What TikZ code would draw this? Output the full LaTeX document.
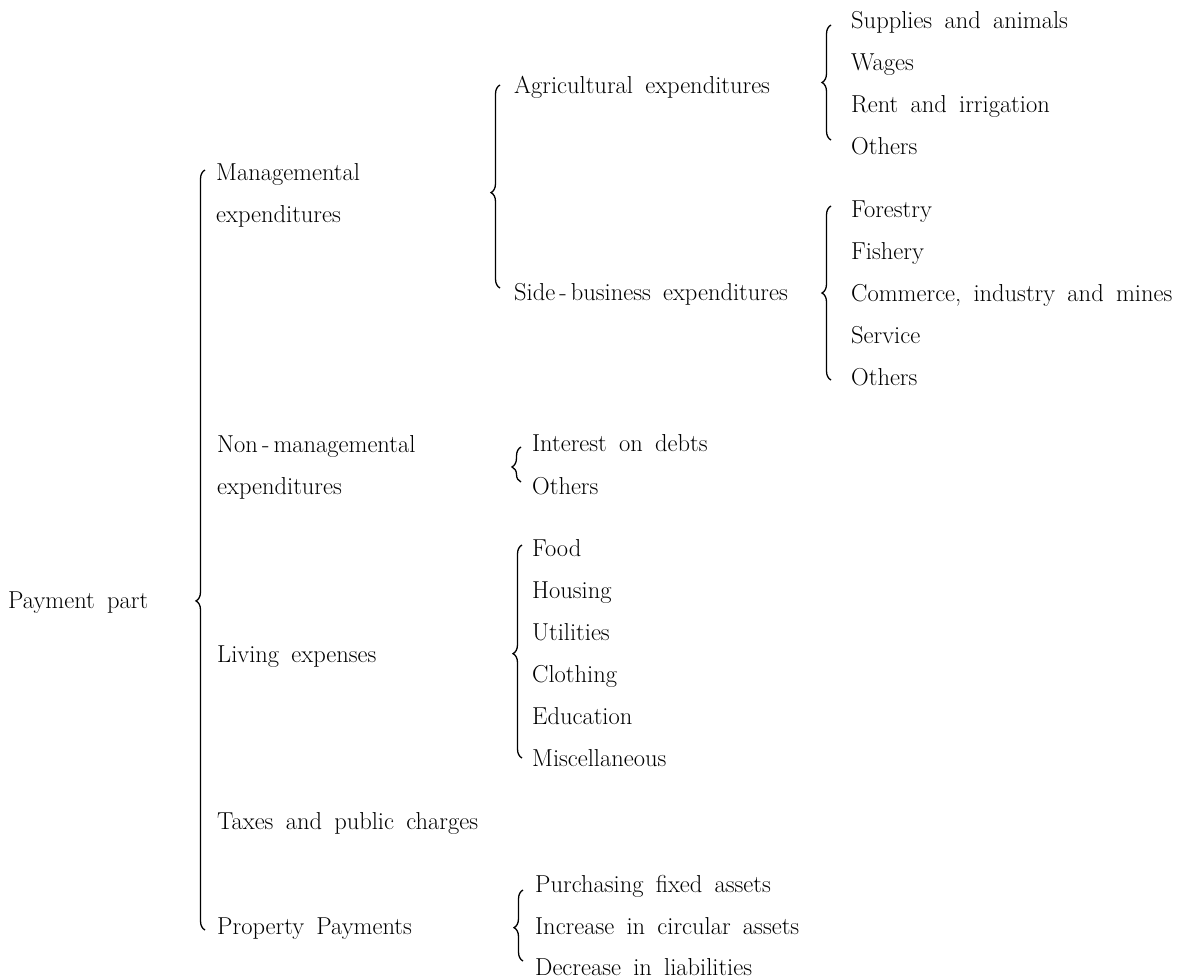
\documentclass[tikz,border=0pt]{standalone}
\usetikzlibrary{decorations.pathreplacing}
\newcommand\lblfont{\fontsize{24.5}{29}\selectfont\spaceskip=0.5em plus 0.1em minus 0.05em\relax}
\begin{document}
\begin{tikzpicture}[x=1pt,y=-1pt,
  lbl/.style={anchor=base west, inner sep=0pt, font=\lblfont},
  brc/.style={line width=1.3pt, decorate, decoration={brace, amplitude=#1}},
  brc/.default=9pt]
\useasboundingbox (0,0) rectangle (1177,978);
% labels (baselines)
\node[lbl] (pay) at (8,608) {Payment part};
\node[lbl] (man1) at (216,180) {Managemental};
\node[lbl] (man2) at (216,222) {expenditures};
\node[lbl] (non1) at (217,452) {Non\,-\,managemental};
\node[lbl] (non2) at (217,494) {expenditures};
\node[lbl] (liv) at (217,662) {Living expenses};
\node[lbl] (tax) at (217,829) {Taxes and public charges};
\node[lbl] (prop) at (217,934) {Property Payments};
\node[lbl] (agr) at (514,93) {Agricultural expenditures};
\node[lbl] (side) at (514,300) {Side\,-\,business expenditures};
\node[lbl] (a1) at (851,28) {Supplies and animals};
\node[lbl] (a2) at (851,70) {Wages};
\node[lbl] (a3) at (851,112) {Rent and irrigation};
\node[lbl] (a4) at (851,154) {Others};
\node[lbl] (s1) at (851,217) {Forestry};
\node[lbl] (s2) at (851,259) {Fishery};
\node[lbl] (s3) at (851,301) {Commerce, industry and mines};
\node[lbl] (s4) at (851,343) {Service};
\node[lbl] (s5) at (851,385) {Others};
\node[lbl] (n1) at (532,451) {Interest on debts};
\node[lbl] (n2) at (532,494) {Others};
\node[lbl] (l1) at (532,556) {Food};
\node[lbl] (l2) at (532,598) {Housing};
\node[lbl] (l3) at (532,640) {Utilities};
\node[lbl] (l4) at (532,682) {Clothing};
\node[lbl] (l5) at (532,724) {Education};
\node[lbl] (l6) at (532,766) {Miscellaneous};
\node[lbl] (p1) at (535,892) {Purchasing fixed assets};
\node[lbl] (p2) at (535,934) {Increase in circular assets};
\node[lbl] (p3) at (535,975) {Decrease in liabilities};
% brace end points
\coordinate (b0s) at (205,930); \coordinate (b0e) at (205,170);
\coordinate (b1s) at (500,288); \coordinate (b1e) at (500,85);
\coordinate (b2s) at (831,140); \coordinate (b2e) at (831,25);
\coordinate (b3s) at (831,380); \coordinate (b3e) at (831,206);
\coordinate (b4s) at (521,482); \coordinate (b4e) at (521,447);
\coordinate (b5s) at (522,758); \coordinate (b5e) at (522,545);
\coordinate (b6s) at (523,961); \coordinate (b6e) at (523,890);
% braces
\draw[brc=9pt, decoration={aspect=0.433}] (b0s) -- (b0e);
\draw[brc=9pt, decoration={aspect=0.47}] (b1s) -- (b1e);
\draw[brc=9pt, decoration={aspect=0.5}] (b2s) -- (b2e);
\draw[brc=9pt, decoration={aspect=0.5}] (b3s) -- (b3e);
\draw[brc=9pt, decoration={aspect=0.43}] (b4s) -- (b4e);
\draw[brc=9pt, decoration={aspect=0.49}] (b5s) -- (b5e);
\draw[brc=9pt, decoration={aspect=0.47}] (b6s) -- (b6e);
\end{tikzpicture}
\end{document}
